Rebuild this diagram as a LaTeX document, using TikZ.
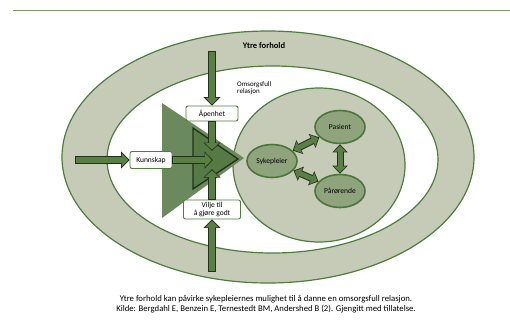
\documentclass[tikz,border=0pt]{standalone}
\usepackage{fontspec}
\setmainfont{Carlito}
\usepackage{xcolor}
\definecolor{RingFill}{HTML}{C5CBB7}
\definecolor{RingLine}{HTML}{4E7D3C}
\definecolor{ActorFill}{HTML}{8FA47D}
\definecolor{ActorLine}{HTML}{4B7539}
\definecolor{ArrowFill}{HTML}{5A7F45}
\definecolor{ArrowLine}{HTML}{22321A}
\definecolor{BigTri}{HTML}{6A895C}
\definecolor{SmallTri}{HTML}{557A45}
\definecolor{RuleGreen}{HTML}{7A9A6A}
\usetikzlibrary{arrows.meta,shapes.geometric}
\tikzset{
  labelbox/.style={
    draw=RingLine,
    fill=white,
    line width=0.9pt,
    rounded corners=2pt,
    align=center,
    font=\fontsize{7.5}{7.5}\selectfont,
    inner sep=1.5pt
  },
  actor/.style={
    ellipse,
    draw=ActorLine,
    fill=ActorFill,
    line width=1.6pt,
    minimum width=50pt,
    minimum height=33pt,
    inner sep=0pt,
    font=\fontsize{7.5}{8}\selectfont
  },
  fatarrow/.style={
    draw=ArrowFill,
    line width=6pt,
    shorten >=1.3pt,
    shorten <=1pt,
    -{Triangle[length=6.5pt,width=13pt]},
    preaction={draw=ArrowLine,line width=8pt,shorten >=0pt,shorten <=0pt,
      -{Triangle[length=8.5pt,width=16.5pt]}}
  },
  relarrow/.style={
    draw=ArrowFill,
    line width=5pt,
    shorten >=1.3pt,
    shorten <=1.3pt,
    {Triangle[length=6pt,width=12pt]}-{Triangle[length=6pt,width=12pt]},
    preaction={draw=ArrowLine,line width=7pt,shorten >=0pt,shorten <=0pt,
      {Triangle[length=8pt,width=15pt]}-{Triangle[length=8pt,width=15pt]}}
  }
}

\begin{document}
\begin{tikzpicture}[x=1pt,y=-1pt]
  \useasboundingbox (0,0) rectangle (510,330);
  \draw[RuleGreen,line width=1pt] (13,10) -- (510,10);
  % ringene
  \draw[RingLine,fill=RingFill,line width=1.2pt] (268,157) ellipse [x radius=206pt,y radius=126pt];
  \draw[RingLine,fill=white,line width=1.2pt] (272.5,159.5) ellipse [x radius=165.5pt,y radius=93.5pt];
  \draw[RingLine,fill=RingFill,line width=1.2pt] (319,165) ellipse [x radius=86pt,y radius=77pt];
  \node[font=\fontsize{8.5}{9}\selectfont\bfseries] (ytre) at (264,46) {Ytre forhold};
  \node[font=\fontsize{7}{7}\selectfont,align=left,anchor=west,inner sep=0pt] (omsorg) at (237,88) {Omsorgsfull\\relasjon};
  % trekantene
  \fill[BigTri] (162,103) -- (162,218) -- (244,158) -- cycle;
  \draw[ArrowLine,fill=SmallTri,line width=1.3pt] (193,128) -- (193,189) -- (238,159) -- cycle;
  % faktorer
  \node[labelbox,minimum width=42pt,minimum height=17pt] (kunnskap) at (151,160) {Kunnskap};
  \node[labelbox,minimum width=52pt,minimum height=15pt] (apenhet) at (212,113.5) {Åpenhet};
  \node[labelbox,minimum width=57pt,minimum height=19pt] (vilje) at (212,209.5) {Vilje til\\å gjøre godt};
  \coordinate (kunnskapIn) at (75,160);
  \coordinate (kunnskapOut) at (213,160);
  \coordinate (apenhetIn) at (212,51);
  \coordinate (apenhetOut) at (212,151);
  \coordinate (viljeIn) at (212,272);
  \coordinate (viljeOut) at (212,169);
  \draw[fatarrow] (kunnskapIn) -- (kunnskap.west);
  \draw[fatarrow] (kunnskap.east) -- (kunnskapOut);
  \draw[fatarrow] (apenhetIn) -- (apenhet.north);
  \draw[fatarrow] (apenhet.south) -- (apenhetOut);
  \draw[fatarrow] (viljeIn) -- (vilje.south);
  \draw[fatarrow] (vilje.north) -- (viljeOut);
  % relasjonen
  \node[actor] (sykepleier) at (272,161) {Sykepleier};
  \node[actor] (pasient) at (340,127) {Pasient};
  \node[actor] (parorende) at (340,191) {Pårørende};
  \draw[relarrow] (sykepleier) -- (pasient);
  \draw[relarrow] (sykepleier) -- (parorende);
  \draw[relarrow] (pasient) -- (parorende);
  \node[font=\fontsize{8.7}{10}\selectfont,align=center] (caption) at (266,304) {Ytre forhold kan påvirke sykepleiernes mulighet til å danne en omsorgsfull relasjon.\\Kilde: Bergdahl E, Benzein E, Ternestedt BM, Andershed B (2). Gjengitt med tillatelse.};
\end{tikzpicture}
\end{document}
